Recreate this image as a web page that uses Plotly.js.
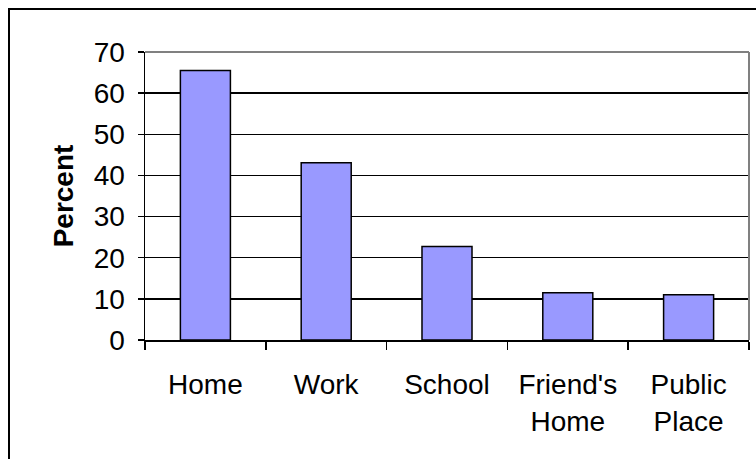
<!DOCTYPE html>
<html>
<head>
<meta charset="utf-8">
<script src="https://cdn.plot.ly/plotly-3.0.1.min.js"></script>
<style>
  html, body { margin: 0; padding: 0; background: #fff; }
  #wrap { position: relative; width: 756px; height: 459px; overflow: hidden; }
  #chart { position: absolute; left: 0; top: 0; width: 756px; height: 459px; }
  #frame { position: absolute; left: 8px; top: 8px; width: 800px; height: 520px;
           border-left: 2px solid #000; border-top: 2px solid #000; pointer-events: none; }
</style>
</head>
<body>
<div id="wrap">
  <div id="chart"></div>
  <div id="frame"></div>
</div>
<script>
// Data
const categories = ["Home", "Work", "School", "Friend's Home", "Public Place"];
const tickLabels = ["Home", "Work", "School", "Friend's<br>Home", "Public<br>Place"];
const percentValues = [65.5, 43.1, 22.7, 11.5, 11.0];
const yTicks = [0, 10, 20, 30, 40, 50, 60, 70];

const font = "Liberation Sans, Arial, sans-serif";

const trace = {
  type: "bar",
  x: categories,
  y: percentValues,
  marker: { color: "#9999FF", line: { color: "#000000", width: 1.5 } },
  hoverinfo: "x+y"
};

const layout = {
  width: 756, height: 459,
  margin: { l: 145, r: 7, t: 52, b: 119 },
  paper_bgcolor: "#ffffff",
  plot_bgcolor: "#ffffff",
  showlegend: false,
  bargap: 0.586,
  font: { family: font, size: 28, color: "#000" },
  xaxis: {
    type: "category",
    tickvals: categories,
    ticktext: tickLabels,
    tickson: "boundaries",
    ticks: "outside",
    ticklen: 8,
    tickwidth: 1.5,
    tickcolor: "#000",
    showline: true,
    linecolor: "#000",
    linewidth: 1.5,
    showgrid: false,
    zeroline: false,
    ticklabelstandoff: 19,
    tickfont: { family: font, size: 28, color: "#000" },
    fixedrange: true
  },
  yaxis: {
    range: [0, 70],
    tickvals: yTicks,
    ticks: "outside",
    ticklen: 6,
    tickwidth: 1.5,
    tickcolor: "#000",
    showline: true,
    linecolor: "#000",
    linewidth: 1.5,
    showgrid: true,
    gridcolor: "#000",
    gridwidth: 1.5,
    zeroline: false,
    ticklabelstandoff: 7,
    tickfont: { family: font, size: 28, color: "#000" },
    title: { text: "<b>Percent</b>", font: { family: font, size: 28, color: "#000" }, standoff: 12 },
    fixedrange: true
  },
  shapes: [
    { type: "line", xref: "paper", yref: "paper", x0: 0, x1: 1, y0: 1, y1: 1,
      line: { color: "#808080", width: 2 }, layer: "above" },
    { type: "line", xref: "paper", yref: "paper", x0: 1, x1: 1, y0: 0, y1: 1,
      line: { color: "#808080", width: 2 }, layer: "above" }
  ]
};

Plotly.newPlot("chart", [trace], layout, { displayModeBar: false, staticPlot: true });
</script>
</body>
</html>
